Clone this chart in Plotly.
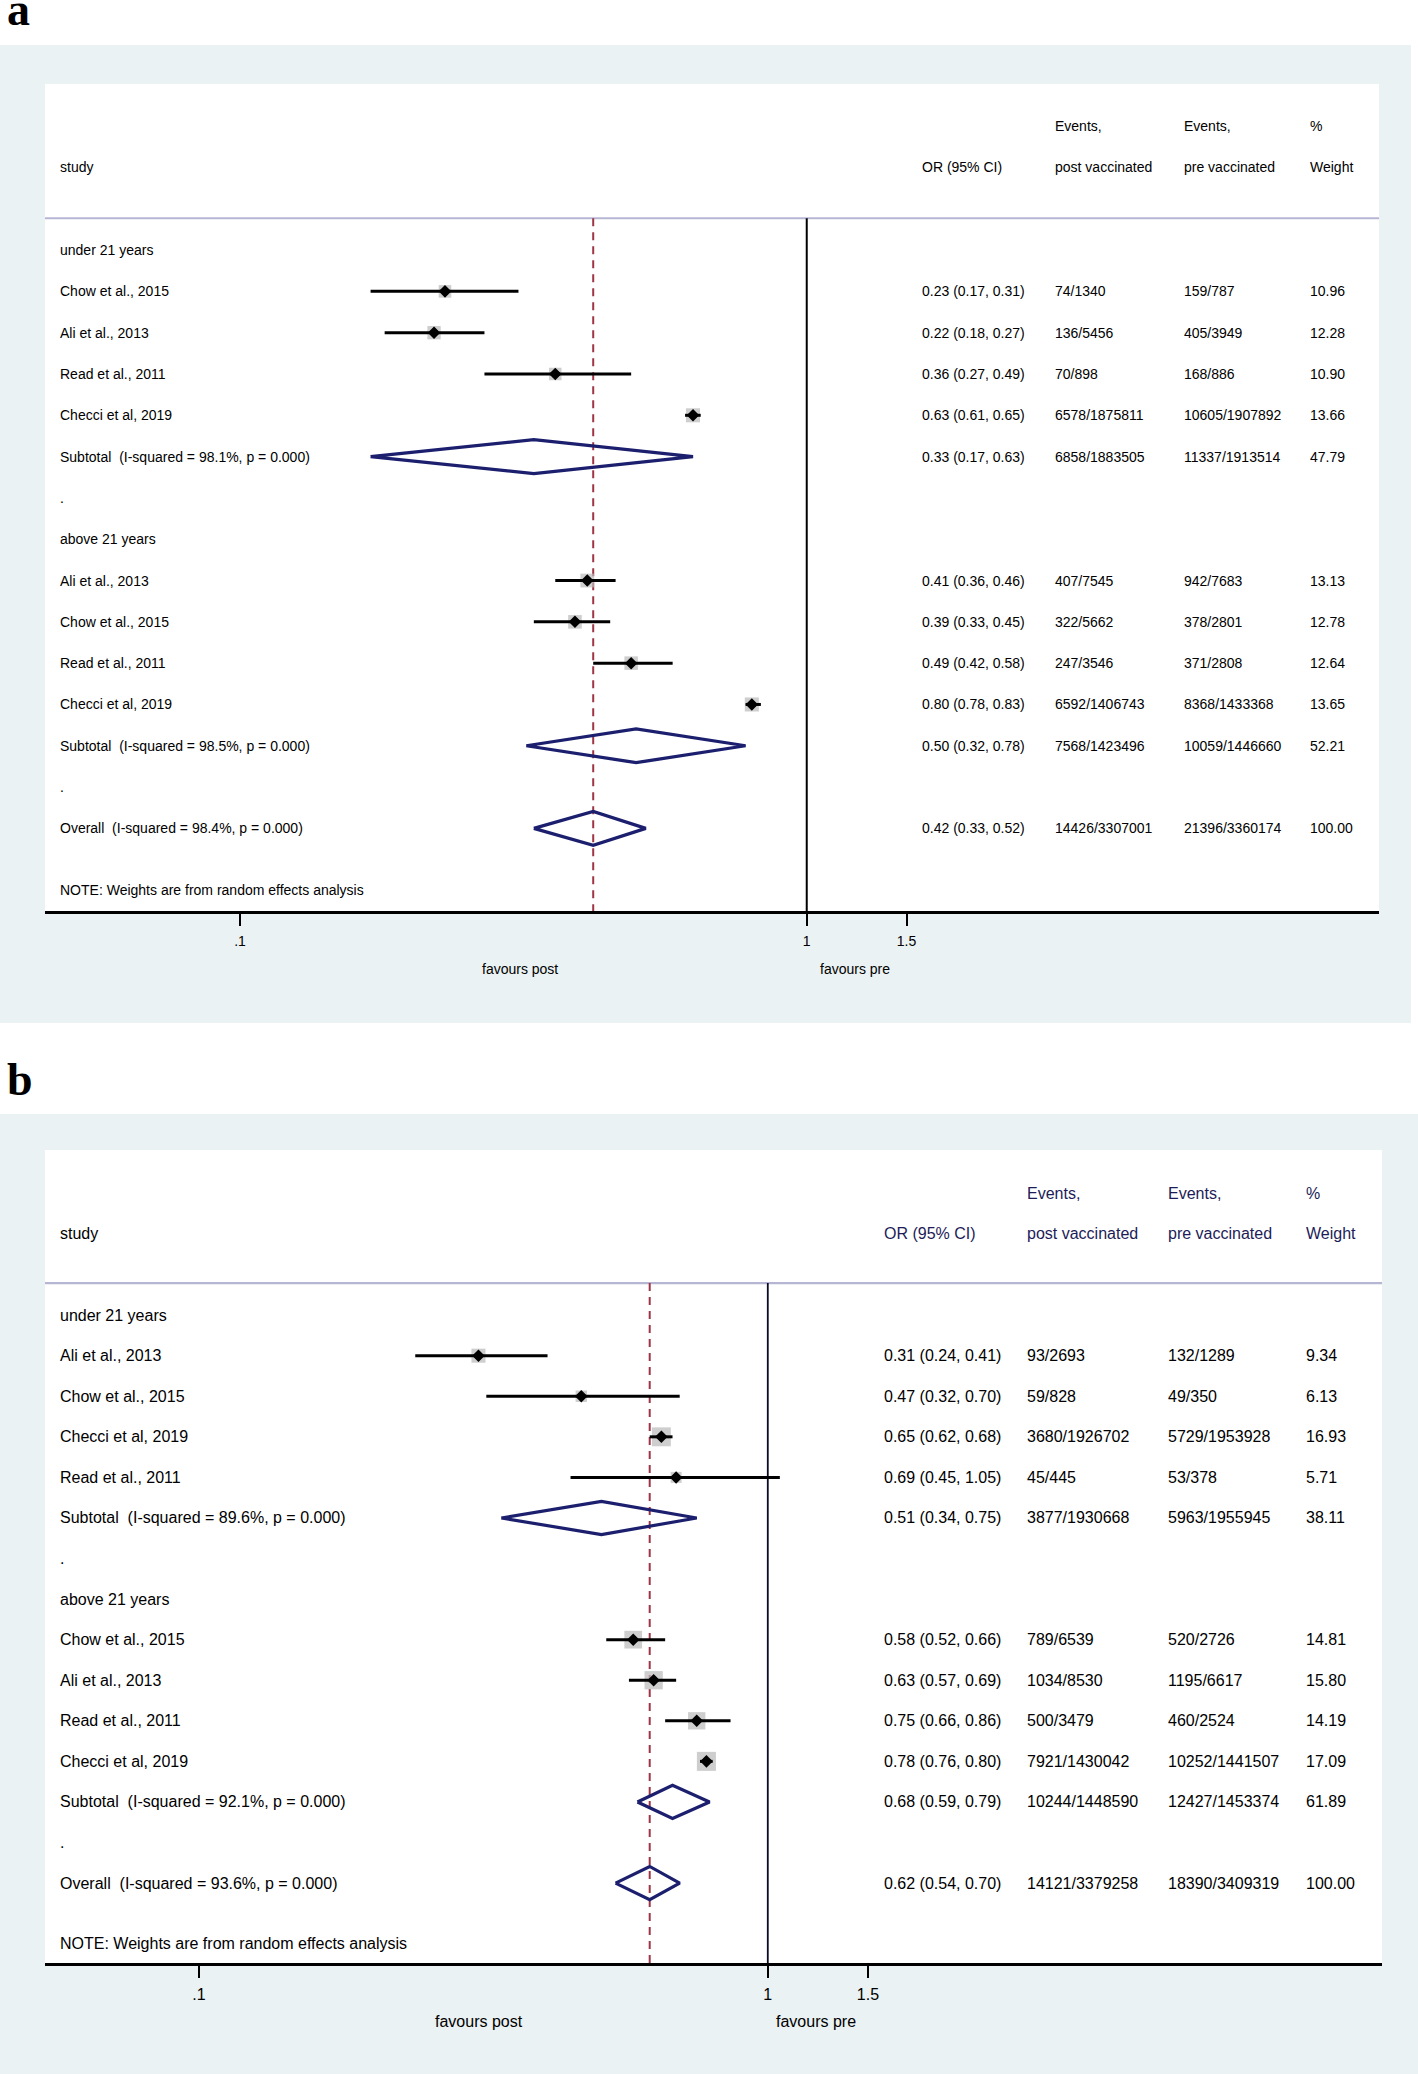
import math
import plotly.graph_objects as go

W, H = 1418, 2074
FONT = "Liberation Sans, Arial, Helvetica, sans-serif"

# ---------------- shared text ----------------
group_labels = ["under 21 years", "above 21 years"]
header_top = ["Events,", "Events,", "%"]
header_bottom = ["study", "OR (95% CI)", "post vaccinated", "pre vaccinated", "Weight"]
tick_vals = [0.1, 1, 1.5]
tick_text = [".1", "1", "1.5"]
side_labels = ["favours post", "favours pre"]
note_text = "NOTE: Weights are from random effects analysis"

# ---------------- panel a data ----------------
a_g1_study = ["Chow et al., 2015", "Ali et al., 2013", "Read et al., 2011", "Checci et al, 2019"]
a_g1_or = [0.23, 0.22, 0.36, 0.63]
a_g1_lo = [0.17, 0.18, 0.27, 0.61]
a_g1_hi = [0.31, 0.27, 0.49, 0.65]
a_g1_post = ["74/1340", "136/5456", "70/898", "6578/1875811"]
a_g1_pre = ["159/787", "405/3949", "168/886", "10605/1907892"]
a_g1_wt = [10.96, 12.28, 10.90, 13.66]

a_g2_study = ["Ali et al., 2013", "Chow et al., 2015", "Read et al., 2011", "Checci et al, 2019"]
a_g2_or = [0.41, 0.39, 0.49, 0.80]
a_g2_lo = [0.36, 0.33, 0.42, 0.78]
a_g2_hi = [0.46, 0.45, 0.58, 0.83]
a_g2_post = ["407/7545", "322/5662", "247/3546", "6592/1406743"]
a_g2_pre = ["942/7683", "378/2801", "371/2808", "8368/1433368"]
a_g2_wt = [13.13, 12.78, 12.64, 13.65]

a_pool_label = ["Subtotal\u00a0 (I-squared = 98.1%, p = 0.000)",
                "Subtotal\u00a0 (I-squared = 98.5%, p = 0.000)",
                "Overall\u00a0 (I-squared = 98.4%, p = 0.000)"]
a_pool_or = [0.33, 0.50, 0.42]
a_pool_lo = [0.17, 0.32, 0.33]
a_pool_hi = [0.63, 0.78, 0.52]
a_pool_post = ["6858/1883505", "7568/1423496", "14426/3307001"]
a_pool_pre = ["11337/1913514", "10059/1446660", "21396/3360174"]
a_pool_wt = [47.79, 52.21, 100.00]

# ---------------- panel b data ----------------
b_g1_study = ["Ali et al., 2013", "Chow et al., 2015", "Checci et al, 2019", "Read et al., 2011"]
b_g1_or = [0.31, 0.47, 0.65, 0.69]
b_g1_lo = [0.24, 0.32, 0.62, 0.45]
b_g1_hi = [0.41, 0.70, 0.68, 1.05]
b_g1_post = ["93/2693", "59/828", "3680/1926702", "45/445"]
b_g1_pre = ["132/1289", "49/350", "5729/1953928", "53/378"]
b_g1_wt = [9.34, 6.13, 16.93, 5.71]

b_g2_study = ["Chow et al., 2015", "Ali et al., 2013", "Read et al., 2011", "Checci et al, 2019"]
b_g2_or = [0.58, 0.63, 0.75, 0.78]
b_g2_lo = [0.52, 0.57, 0.66, 0.76]
b_g2_hi = [0.66, 0.69, 0.86, 0.80]
b_g2_post = ["789/6539", "1034/8530", "500/3479", "7921/1430042"]
b_g2_pre = ["520/2726", "1195/6617", "460/2524", "10252/1441507"]
b_g2_wt = [14.81, 15.80, 14.19, 17.09]

b_pool_label = ["Subtotal\u00a0 (I-squared = 89.6%, p = 0.000)",
                "Subtotal\u00a0 (I-squared = 92.1%, p = 0.000)",
                "Overall\u00a0 (I-squared = 93.6%, p = 0.000)"]
b_pool_or = [0.51, 0.68, 0.62]
b_pool_lo = [0.34, 0.59, 0.54]
b_pool_hi = [0.75, 0.79, 0.70]
b_pool_post = ["3877/1930668", "10244/1448590", "14121/3379258"]
b_pool_pre = ["5963/1955945", "12427/1453374", "18390/3409319"]
b_pool_wt = [38.11, 61.89, 100.00]

panel_a = dict(
    g1=(a_g1_study, a_g1_or, a_g1_lo, a_g1_hi, a_g1_post, a_g1_pre, a_g1_wt),
    g2=(a_g2_study, a_g2_or, a_g2_lo, a_g2_hi, a_g2_post, a_g2_pre, a_g2_wt),
    pool=(a_pool_label, a_pool_or, a_pool_lo, a_pool_hi, a_pool_post, a_pool_pre, a_pool_wt),
)
panel_b = dict(
    g1=(b_g1_study, b_g1_or, b_g1_lo, b_g1_hi, b_g1_post, b_g1_pre, b_g1_wt),
    g2=(b_g2_study, b_g2_or, b_g2_lo, b_g2_hi, b_g2_post, b_g2_pre, b_g2_wt),
    pool=(b_pool_label, b_pool_or, b_pool_lo, b_pool_hi, b_pool_post, b_pool_pre, b_pool_wt),
)

# ---------------- layout geometry (pixels) ----------------
geom_a = dict(tag="a", band=(0, 1411, 45, 1023), white=(45, 1379, 84, 911),
              xrange=(-1.344, 1.0097), yrange=(16.0, -4.02), font=14,
              cols=(58, 920, 1053, 1182, 1308), sep=-0.77, fav_y=969, fav_x=(520, 855),
              box_k=3.8, tag_y=10, header_color="black", null_w=2, null_color="black")
geom_b = dict(tag="b", band=(0, 1418, 1114, 2074), white=(45, 1382, 1150, 1963),
              xrange=(-1.2707, 1.0798), yrange=(15.97, -4.07), font=16,
              cols=(58, 882, 1025, 1166, 1304), sep=-0.79, fav_y=2021, fav_x=(479, 816),
              box_k=4.6, tag_y=1079, header_color="#1c1c58", null_w=1.8, null_color="#0a0a25")

NAVY = "#1b1f6e"
MAROON = "#9e3545"
BOX = "#b9b9b9"
BAND = "#eaf2f3"
SEP = "#b6b6d4"


def px(x):
    return x / W


def py(y):
    return 1 - y / H


fig = go.Figure()
shapes = []
annotations = []


def fmt_or(o, l, h):
    return f"{o:.2f} ({l:.2f}, {h:.2f})"


def add_panel(data, g, idx):
    xa = "x" if idx == 1 else f"x{idx}"
    ya = "y" if idx == 1 else f"y{idx}"
    fs = g["font"]
    c_lab, c_or, c_post, c_pre, c_wt = g["cols"]

    # background band and white plot region
    bx0, bx1, by0, by1 = g["band"]
    shapes.append(dict(type="rect", xref="paper", yref="paper", x0=px(bx0), x1=px(bx1),
                       y0=py(by1), y1=py(by0), fillcolor=BAND, line=dict(width=0), layer="below"))
    wx0, wx1, wy0, wy1 = g["white"]
    shapes.append(dict(type="rect", xref="paper", yref="paper", x0=px(wx0), x1=px(wx1),
                       y0=py(wy1), y1=py(wy0), fillcolor="white", line=dict(width=0), layer="below"))
    # header separator
    shapes.append(dict(type="line", xref="paper", yref=ya, x0=px(wx0), x1=px(wx1),
                       y0=g["sep"], y1=g["sep"], line=dict(color=SEP, width=2.2), layer="below"))

    # row assignment
    rows_g1 = [1, 2, 3, 4]
    rows_g2 = [8, 9, 10, 11]
    pool_rows = [5, 12, 14]
    grp_rows = [0, 7]
    dot_rows = [6, 13]
    bottom = g["yrange"][0]

    overall_or = data["pool"][1][2]
    # null line and overall line
    shapes.append(dict(type="line", xref=xa, yref=ya, x0=1, x1=1, y0=g["sep"], y1=bottom,
                       line=dict(color=g["null_color"], width=g["null_w"]), layer="below"))
    shapes.append(dict(type="line", xref=xa, yref=ya, x0=overall_or, x1=overall_or,
                       y0=g["sep"], y1=bottom,
                       line=dict(color=MAROON, width=2, dash="8px,6px"), layer="below"))

    # study-level marks
    st_rows, st_or, st_lo, st_hi, st_wt = [], [], [], [], []
    for grp, rows in ((data["g1"], rows_g1), (data["g2"], rows_g2)):
        study, o, lo, hi, post, pre, wt = grp
        st_rows += rows
        st_or += o
        st_lo += lo
        st_hi += hi
        st_wt += wt
    # boxes
    fig.add_trace(go.Scatter(x=st_or, y=st_rows, mode="markers", xaxis=xa, yaxis=ya,
                             marker=dict(symbol="square", color=BOX,
                                         size=[g["box_k"] * math.sqrt(w) for w in st_wt],
                                         line=dict(width=0)),
                             showlegend=False, hoverinfo="skip"))
    # CI lines
    lx, ly = [], []
    for r, l, h in zip(st_rows, st_lo, st_hi):
        lx += [l, h, None]
        ly += [r, r, None]
    fig.add_trace(go.Scatter(x=lx, y=ly, mode="lines", xaxis=xa, yaxis=ya,
                             line=dict(color="black", width=3),
                             showlegend=False, hoverinfo="skip"))
    # point estimates
    fig.add_trace(go.Scatter(x=st_or, y=st_rows, mode="markers", xaxis=xa, yaxis=ya,
                             marker=dict(symbol="diamond", color="black", size=8,
                                         line=dict(color="black", width=1.5)),
                             showlegend=False, hoverinfo="skip"))
    # pooled diamonds
    plabel, por, plo, phi, ppost, ppre, pwt = data["pool"]
    dx, dy = [], []
    hh = 0.41
    for r, o, l, h in zip(pool_rows, por, plo, phi):
        dx += [l, o, h, o, l, None]
        dy += [r, r - hh, r, r + hh, r, None]
    fig.add_trace(go.Scatter(x=dx, y=dy, mode="lines", xaxis=xa, yaxis=ya,
                             line=dict(color=NAVY, width=3.2),
                             showlegend=False, hoverinfo="skip"))

    # text
    def txt(xpix, row, s, color="black", size=fs):
        annotations.append(dict(xref="paper", yref=ya, x=px(xpix), y=row, text=s,
                                showarrow=False, xanchor="left", yanchor="middle",
                                font=dict(family=FONT, size=size, color=color)))

    hc = g["header_color"]
    txt(c_post, -3, header_top[0], hc)
    txt(c_pre, -3, header_top[1], hc)
    txt(c_wt, -3, header_top[2], hc)
    txt(c_lab, -2, header_bottom[0], "black")
    txt(c_or, -2, header_bottom[1], hc)
    txt(c_post, -2, header_bottom[2], hc)
    txt(c_pre, -2, header_bottom[3], hc)
    txt(c_wt, -2, header_bottom[4], hc)

    for r, gl in zip(grp_rows, group_labels):
        txt(c_lab, r, gl)
    for r in dot_rows:
        txt(c_lab, r, ".")
    for grp, rows in ((data["g1"], rows_g1), (data["g2"], rows_g2)):
        study, o, lo, hi, post, pre, wt = grp
        for i, r in enumerate(rows):
            txt(c_lab, r, study[i])
            txt(c_or, r, fmt_or(o[i], lo[i], hi[i]))
            txt(c_post, r, post[i])
            txt(c_pre, r, pre[i])
            txt(c_wt, r, f"{wt[i]:.2f}")
    for i, r in enumerate(pool_rows):
        txt(c_lab, r, plabel[i])
        txt(c_or, r, fmt_or(por[i], plo[i], phi[i]))
        txt(c_post, r, ppost[i])
        txt(c_pre, r, ppre[i])
        txt(c_wt, r, f"{pwt[i]:.2f}")
    txt(c_lab, 15.5, note_text)

    # favours labels
    for xc, s in zip(g["fav_x"], side_labels):
        annotations.append(dict(xref="paper", yref="paper", x=px(xc), y=py(g["fav_y"]), text=s,
                                showarrow=False, xanchor="center", yanchor="middle",
                                font=dict(family=FONT, size=fs, color="black")))
    # panel tag
    annotations.append(dict(xref="paper", yref="paper", x=px(5), y=py(g["tag_y"]),
                            text=f"<b>{g['tag']}</b>", showarrow=False,
                            xanchor="left", yanchor="middle",
                            font=dict(family="Liberation Serif, Times New Roman, serif",
                                      size=46, color="black")))

    xkey = "xaxis" if idx == 1 else f"xaxis{idx}"
    ykey = "yaxis" if idx == 1 else f"yaxis{idx}"
    axis_x = dict(type="log", range=list(g["xrange"]), domain=[px(wx0), px(wx1)],
                  anchor=ya, tickvals=tick_vals, ticktext=tick_text, ticks="outside",
                  ticklen=12, tickwidth=2, tickcolor="black", showline=True,
                  linewidth=3, linecolor="black", showgrid=False, zeroline=False,
                  ticklabelstandoff=3,
                  tickfont=dict(family=FONT, size=fs, color="black"))
    axis_y = dict(range=list(g["yrange"]), domain=[py(wy1), py(wy0)], anchor=xa,
                  visible=False, showgrid=False, zeroline=False)
    return xkey, axis_x, ykey, axis_y


layout_axes = {}
for data, g, idx in ((panel_a, geom_a, 1), (panel_b, geom_b, 2)):
    xk, ax, yk, ay = add_panel(data, g, idx)
    layout_axes[xk] = ax
    layout_axes[yk] = ay

fig.update_layout(
    width=W, height=H, autosize=False,
    margin=dict(l=0, r=0, t=0, b=0),
    paper_bgcolor="white", plot_bgcolor="rgba(0,0,0,0)",
    shapes=shapes, annotations=annotations, showlegend=False,
    **layout_axes,
)

# remove the default 8px page margin so the figure sits at the page origin
fig.write_html("out.html", config={"displayModeBar": False},
               post_script="document.body.style.margin='0px';")
